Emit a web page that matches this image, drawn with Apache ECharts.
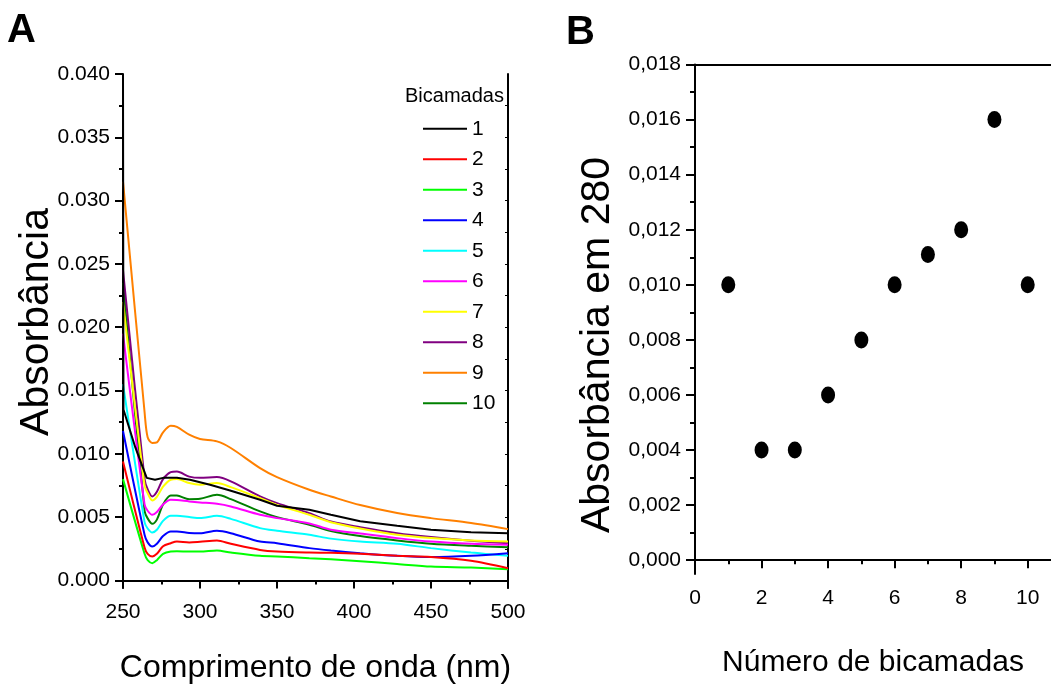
<!DOCTYPE html>
<html>
<head>
<meta charset="utf-8">
<title>Absorbância - bicamadas</title>
<style>
  html,body{margin:0;padding:0;background:#fff;}
</style>
</head>
<body>
<div id="main" style="width:1051px;height:689px;"></div>
<script src="https://cdn.jsdelivr.net/npm/echarts@6/dist/echarts.min.js"></script>
<script>
// ---- data ----
var wavelengths = [250, 264, 266, 269, 272, 276, 281, 285, 293, 300, 311, 320, 339, 350, 371, 385, 404, 428, 450, 476, 500];
var blackWl = [246.6, 250, 250.3, 258, 265.4, 270.8, 276, 285, 293.5, 306.5, 319.5, 339, 350, 371, 385, 404, 428, 450, 476, 500];

var abs1 = [0.0267, 0.040, 0.0135, 0.0105, 0.0081, 0.00795, 0.0081, 0.0081, 0.00795, 0.00756, 0.0071, 0.00637, 0.0059, 0.00558, 0.00518, 0.00468, 0.00431, 0.0040, 0.0038, 0.00373];
var abs2 = [0.0094, 0.0026, 0.0021, 0.00189, 0.0021, 0.0027, 0.00294, 0.00307, 0.0030, 0.00305, 0.00315, 0.00289, 0.00241, 0.00228, 0.0022, 0.00218, 0.0021, 0.00194, 0.00185, 0.00155, 0.00096];
var abs3 = [0.0080, 0.0021, 0.0016, 0.00136, 0.0016, 0.0021, 0.00228, 0.0023, 0.00228, 0.00228, 0.00236, 0.0022, 0.00194, 0.00189, 0.00175, 0.00167, 0.00152, 0.0013, 0.00109, 0.00101, 0.00088];
var abs4 = [0.0118, 0.0036, 0.0030, 0.00268, 0.0029, 0.0035, 0.00386, 0.00386, 0.00375, 0.00372, 0.00392, 0.00373, 0.00307, 0.00294, 0.00255, 0.00236, 0.00215, 0.00194, 0.00184, 0.00194, 0.00215];
var abs5 = [0.0155, 0.0046, 0.0041, 0.00378, 0.0040, 0.0047, 0.0051, 0.0051, 0.0050, 0.00492, 0.0051, 0.00486, 0.00413, 0.00392, 0.0036, 0.0033, 0.00307, 0.00289, 0.00255, 0.0022, 0.00194];
var abs6 = [0.0195, 0.0060, 0.0055, 0.00518, 0.0054, 0.0060, 0.00637, 0.00635, 0.00624, 0.00616, 0.00605, 0.00584, 0.00518, 0.00492, 0.0045, 0.0040, 0.0037, 0.00334, 0.00307, 0.00289, 0.00281];
var abs7 = [0.022, 0.0075, 0.0069, 0.00632, 0.0066, 0.0074, 0.00795, 0.0080, 0.00769, 0.00756, 0.00769, 0.00737, 0.0065, 0.00597, 0.00518, 0.0046, 0.0041, 0.0036, 0.00334, 0.00315, 0.00307];
var abs8 = [0.0245, 0.0080, 0.0072, 0.00663, 0.0070, 0.0080, 0.00855, 0.0086, 0.0082, 0.0081, 0.00816, 0.00782, 0.00663, 0.0061, 0.00531, 0.00465, 0.0042, 0.00373, 0.00342, 0.00313, 0.00294];
var abs9 = [0.0315, 0.0133, 0.0113, 0.01085, 0.0109, 0.0117, 0.01222, 0.01212, 0.01151, 0.01117, 0.01098, 0.01046, 0.00887, 0.00816, 0.00716, 0.00663, 0.00595, 0.00532, 0.00492, 0.00453, 0.00405];
var abs10 = [0.0235, 0.0055, 0.0049, 0.00447, 0.0048, 0.0060, 0.00671, 0.0067, 0.00642, 0.00645, 0.00676, 0.00642, 0.00545, 0.0050, 0.0044, 0.0039, 0.0035, 0.00315, 0.00289, 0.00273, 0.00262];

var layerNames = ['1', '2', '3', '4', '5', '6', '7', '8', '9', '10'];
var layerColors = ['#000000', '#ff0000', '#00ff00', '#0000ff', '#00ffff', '#ff00ff', '#ffff00', '#800080', '#ff8000', '#008000'];

var layerCount = [1, 2, 3, 4, 5, 6, 7, 8, 9, 10];
var abs280 = [0.010, 0.004, 0.004, 0.006, 0.008, 0.010, 0.0111, 0.0120, 0.0160, 0.010];

// tick values
var ticksA = [0, 0.005, 0.010, 0.015, 0.020, 0.025, 0.030, 0.035, 0.040];
var minorTicksA = [0.0025, 0.0075, 0.0125, 0.0175, 0.0225, 0.0275, 0.0325, 0.0375];
var rightTicksA = [0, 0.0025, 0.005, 0.0075, 0.010, 0.0125, 0.015, 0.0175, 0.020, 0.0225, 0.025, 0.0275, 0.030, 0.0325, 0.035, 0.0375];
var ticksB = [0, 0.002, 0.004, 0.006, 0.008, 0.010, 0.012, 0.014, 0.016, 0.018];
var minorTicksB = [0.001, 0.003, 0.005, 0.007, 0.009, 0.011, 0.013, 0.015, 0.017];
var xTicksB = [0, 2, 4, 6, 8, 10];
var xMinorTicksB = [1, 3, 5, 7, 9];

var FONT = "'Liberation Sans', Arial, sans-serif";

function pairs(xs, ys) {
  return xs.map(function (x, i) { return [x, ys[i]]; });
}

var spectra = [abs1, abs2, abs3, abs4, abs5, abs6, abs7, abs8, abs9, abs10];

var lineSeries = spectra.map(function (vals, i) {
  var xs = i === 0 ? blackWl : wavelengths;
  return {
    name: layerNames[i],
    type: 'line',
    xAxisIndex: 0,
    yAxisIndex: 0,
    data: pairs(xs, vals),
    symbol: 'none',
    smooth: i === 0 ? false : 0.3,
    clip: i !== 0,
    lineStyle: { color: layerColors[i], width: 2 },
    itemStyle: { color: layerColors[i] },
    z: 3 + (9 - i)
  };
});

var blackLine = { color: '#000', width: 2 };

var chart = echarts.init(document.getElementById('main'));
chart.setOption({
  animation: false,
  backgroundColor: '#fff',
  title: [
    { text: 'A', left: 7, top: 11, padding: 0, textStyle: { fontFamily: FONT, fontWeight: 'bold', fontSize: 40, color: '#000' } },
    { text: 'B', left: 566, top: 13, padding: 0, textStyle: { fontFamily: FONT, fontWeight: 'bold', fontSize: 40, color: '#000' } },
    { text: 'Bicamadas', left: 405, top: 86, padding: 0, textStyle: { fontFamily: FONT, fontWeight: 'normal', fontSize: 20, color: '#000' } }
  ],
  legend: {
    data: layerNames,
    orient: 'vertical',
    left: 423,
    top: 118.3,
    padding: 0,
    icon: 'rect',
    itemWidth: 44,
    itemHeight: 2,
    itemGap: 9.5,
    textStyle: { fontFamily: FONT, fontSize: 21, color: '#000' }
  },
  grid: [
    { left: 123, top: 74, width: 385, height: 514 },
    { left: 695, top: 64.5, width: 356, height: 509.5 }
  ],
  graphic: [
    { type: 'text', x: 37, y: 322, rotation: Math.PI / 2,
      style: { text: 'Absorbância', font: '41px ' + FONT, fill: '#000', align: 'center', verticalAlign: 'middle' } },
    { type: 'text', x: 598, y: 345, rotation: Math.PI / 2,
      style: { text: 'Absorbância em 280', font: '41px ' + FONT, fill: '#000', align: 'center', verticalAlign: 'middle' } }
  ],
  xAxis: [
    { // A bottom
      gridIndex: 0, type: 'value', position: 'bottom', min: 250, max: 500, interval: 50,
      axisLine: { show: true, lineStyle: blackLine },
      axisTick: { show: true, length: 8, lineStyle: blackLine },
      minorTick: { show: true, splitNumber: 2, length: 4, lineStyle: blackLine },
      splitLine: { show: false },
      axisLabel: { color: '#000', fontFamily: FONT, fontSize: 21, margin: 14 },
      name: 'Comprimento de onda (nm)', nameLocation: 'middle', nameGap: 64,
      nameTextStyle: { fontFamily: FONT, fontSize: 32, color: '#000' }
    },
    { // A top frame
      gridIndex: 0, type: 'value', position: 'top', min: 250, max: 500, interval: 25,
      axisLine: { show: true, lineStyle: blackLine },
      axisTick: { show: true, inside: true, length: 3, lineStyle: { color: '#000', width: 1 } },
      axisLabel: { show: false }, splitLine: { show: false }
    },
    { // B bottom
      gridIndex: 1, type: 'value', position: 'bottom', min: 0, max: 10.7,
      axisLine: { show: true, lineStyle: blackLine },
      axisTick: { show: true, length: 8, customValues: xTicksB, lineStyle: blackLine },
      axisLabel: { color: '#000', fontFamily: FONT, fontSize: 21, margin: 14, customValues: xTicksB },
      splitLine: { show: false },
      name: 'Número de bicamadas', nameLocation: 'middle', nameGap: 74,
      nameTextStyle: { fontFamily: FONT, fontSize: 30, color: '#000' }
    },
    { // B bottom minor ticks
      gridIndex: 1, type: 'value', position: 'bottom', min: 0, max: 10.7,
      axisLine: { show: false },
      axisTick: { show: true, length: 4, customValues: xMinorTicksB, lineStyle: blackLine },
      axisLabel: { show: false, customValues: xMinorTicksB }, splitLine: { show: false }
    },
    { // B top frame
      gridIndex: 1, type: 'value', position: 'top', min: 0, max: 10.7,
      axisLine: { show: true, lineStyle: blackLine },
      axisTick: { show: false }, axisLabel: { show: false }, splitLine: { show: false }
    }
  ],
  yAxis: [
    { // A left
      gridIndex: 0, type: 'value', position: 'left', min: -0.0006, max: 0.040,
      axisLine: { show: true, lineStyle: blackLine },
      axisTick: { show: true, length: 8, customValues: ticksA, lineStyle: blackLine },
      axisLabel: { color: '#000', fontFamily: FONT, fontSize: 21, margin: 13, customValues: ticksA,
        formatter: function (v) { return v.toFixed(3); } },
      splitLine: { show: false }
    },
    { // A left minor
      gridIndex: 0, type: 'value', position: 'left', min: -0.0006, max: 0.040,
      axisLine: { show: false },
      axisTick: { show: true, length: 4, customValues: minorTicksA, lineStyle: blackLine },
      axisLabel: { show: false, customValues: minorTicksA }, splitLine: { show: false }
    },
    { // A right frame
      gridIndex: 0, type: 'value', position: 'right', min: -0.0006, max: 0.040,
      axisLine: { show: true, lineStyle: blackLine },
      axisTick: { show: true, inside: true, length: 3, customValues: rightTicksA, lineStyle: { color: '#000', width: 1 } },
      axisLabel: { show: false, customValues: rightTicksA }, splitLine: { show: false }
    },
    { // B left
      gridIndex: 1, type: 'value', position: 'left', min: -0.0005, max: 0.018,
      axisLine: { show: true, lineStyle: blackLine },
      axisTick: { show: true, length: 9, customValues: ticksB, lineStyle: blackLine },
      axisLabel: { color: '#000', fontFamily: FONT, fontSize: 21, margin: 14, customValues: ticksB,
        formatter: function (v) { return v.toFixed(3).replace('.', ','); } },
      splitLine: { show: false }
    },
    { // B left minor
      gridIndex: 1, type: 'value', position: 'left', min: -0.0005, max: 0.018,
      axisLine: { show: false },
      axisTick: { show: true, length: 5, customValues: minorTicksB, lineStyle: blackLine },
      axisLabel: { show: false, customValues: minorTicksB }, splitLine: { show: false }
    }
  ],
  series: lineSeries.concat([
    {
      name: 'Absorbância em 280',
      type: 'scatter',
      xAxisIndex: 2,
      yAxisIndex: 3,
      data: pairs(layerCount, abs280),
      symbol: 'circle',
      symbolSize: [14, 17],
      itemStyle: { color: '#000', opacity: 1 }
    }
  ])
});
</script>
</body>
</html>
